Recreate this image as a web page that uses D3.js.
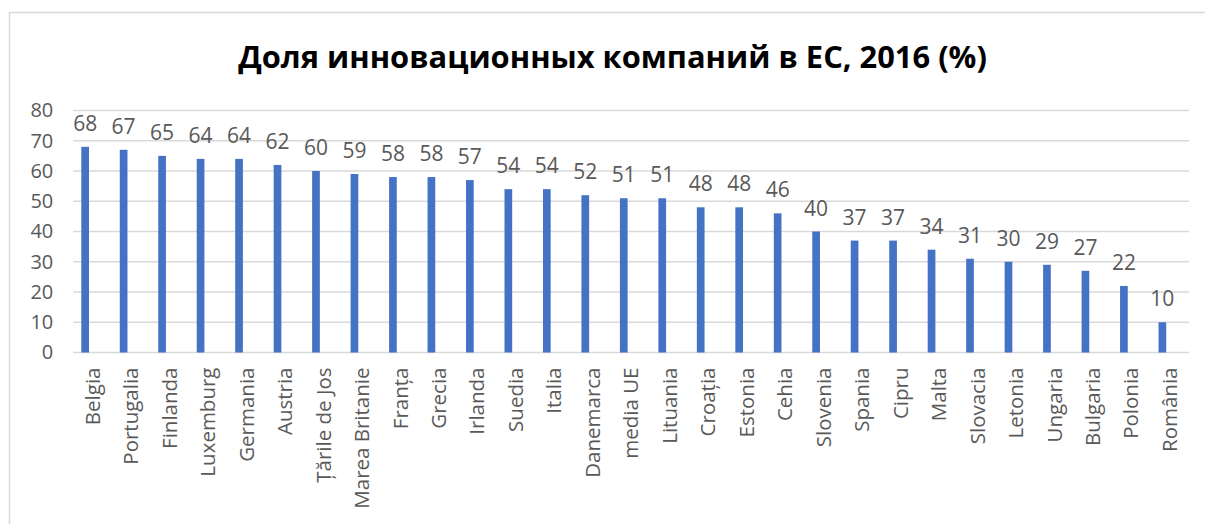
<!DOCTYPE html>
<html>
<head>
<meta charset="utf-8">
<script src="https://cdn.jsdelivr.net/npm/d3@7"></script>
<style>
  body { margin: 0; background: #fff; }
  svg { display: block; font-family: "Open Sans", sans-serif; }
</style>
</head>
<body>
<div id="chart"></div>
<script>
const title = "Доля инновационных компаний в ЕС, 2016 (%)";
const countries = ["Belgia", "Portugalia", "Finlanda", "Luxemburg", "Germania", "Austria",
  "Țările de Jos", "Marea Britanie", "Franța", "Grecia", "Irlanda", "Suedia", "Italia",
  "Danemarca", "media UE", "Lituania", "Croația", "Estonia", "Cehia", "Slovenia", "Spania",
  "Cipru", "Malta", "Slovacia", "Letonia", "Ungaria", "Bulgaria", "Polonia", "România"];
const values = [68, 67, 65, 64, 64, 62, 60, 59, 58, 58, 57, 54, 54, 52, 51, 51, 48, 48, 46,
  40, 37, 37, 34, 31, 30, 29, 27, 22, 10];
const yTicks = [0, 10, 20, 30, 40, 50, 60, 70, 80];

const width = 1205;
const height = 524;
const margin = {top: 110.5, right: 16, bottom: 171.5, left: 73.3};

const data = countries.map((c, i) => ({name: c, value: values[i]}));

const svg = d3.select("#chart").append("svg")
    .attr("width", width)
    .attr("height", height);

// chart area border
svg.append("rect")
    .attr("x", 9.5)
    .attr("y", 12.5)
    .attr("width", 1210)
    .attr("height", 530)
    .attr("fill", "none")
    .attr("stroke", "#d9d9d9")
    .attr("stroke-width", 1.5);

const x = d3.scaleBand()
    .domain(countries)
    .range([margin.left, width - margin.right]);

// bars sit in the left part of each category (empty second series)
const xBar = d3.scaleBand()
    .domain(countries)
    .range([margin.left, width - margin.right])
    .paddingInner(0.8)
    .paddingOuter(0.4)
    .align(0.26);

const y = d3.scaleLinear()
    .domain([0, 80])
    .range([height - margin.bottom, margin.top]);

// gridlines
svg.append("g")
    .selectAll("line")
    .data(yTicks)
    .enter().append("line")
    .attr("x1", margin.left)
    .attr("x2", width - margin.right)
    .attr("y1", d => y(d))
    .attr("y2", d => y(d))
    .attr("stroke", "#d9d9d9")
    .attr("stroke-width", 1.5);

// y axis labels
const yAxis = svg.append("g")
    .attr("transform", `translate(${margin.left},0)`)
    .call(d3.axisLeft(y).tickValues(yTicks).tickSize(0).tickPadding(20));
yAxis.select(".domain").remove();
yAxis.selectAll("text")
    .attr("fill", "#595959")
    .style("font-family", "'Open Sans', sans-serif")
    .style("font-size", "20px");

// bars
svg.selectAll(".bar")
    .data(data)
    .enter().append("rect")
    .attr("class", "bar")
    .attr("x", d => xBar(d.name))
    .attr("y", d => y(d.value))
    .attr("width", xBar.bandwidth())
    .attr("height", d => y(0) - y(d.value))
    .attr("fill", "#4472c4");

// data labels
svg.selectAll(".label")
    .data(data)
    .enter().append("text")
    .attr("class", "label")
    .attr("x", d => xBar(d.name) + xBar.bandwidth() / 2)
    .attr("y", d => y(d.value) - 16)
    .attr("text-anchor", "middle")
    .attr("fill", "#595959")
    .style("font-size", "21px")
    .text(d => d.value);

// category labels
const xAxis = svg.append("g")
    .attr("transform", `translate(0,${y(0)})`)
    .call(d3.axisBottom(x).tickSize(0));
xAxis.select(".domain").remove();
xAxis.selectAll("text")
    .attr("transform", "rotate(-90)")
    .attr("x", -15)
    .attr("y", 0)
    .attr("dy", "0.35em")
    .attr("text-anchor", "end")
    .attr("fill", "#595959")
    .style("font-family", "'Open Sans', sans-serif")
    .style("font-size", "20.5px");

// title, scaled to the width it takes in the original
const t = svg.append("text")
    .attr("x", 612.5)
    .attr("y", 68)
    .attr("text-anchor", "middle")
    .attr("fill", "#000")
    .style("font-weight", "bold")
    .style("font-size", "30px")
    .text(title);
const tw = t.node().getComputedTextLength();
t.style("font-size", (30 * 749 / tw) + "px");
</script>
</body>
</html>
